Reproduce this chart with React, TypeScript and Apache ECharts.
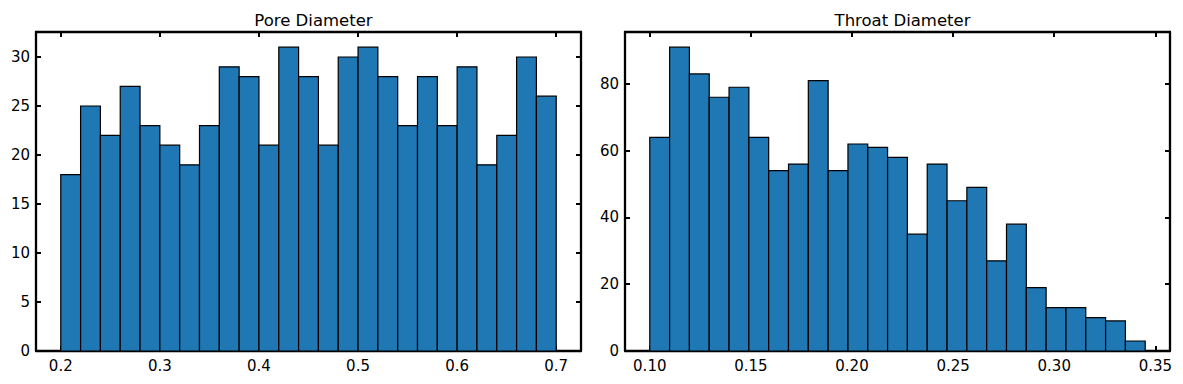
import React, { useEffect, useRef } from "react";
import * as echarts from "echarts";

// Pore Diameter histogram
const poreTitle = "Pore Diameter";
const poreBinStart = 0.2;
const poreBinWidth = 0.02;
const poreCounts = [18, 25, 22, 27, 23, 21, 19, 23, 29, 28, 21, 31, 28, 21, 30, 31, 28, 23, 28, 23, 29, 19, 22, 30, 26];
const poreXTicks = [0.2, 0.3, 0.4, 0.5, 0.6, 0.7];
const poreYTicks = [0, 5, 10, 15, 20, 25, 30];

// Throat Diameter histogram
const throatTitle = "Throat Diameter";
const throatBinStart = 0.1;
const throatBinWidth = 0.0098;
const throatCounts = [64, 91, 83, 76, 79, 64, 54, 56, 81, 54, 62, 61, 58, 35, 56, 45, 49, 27, 38, 19, 13, 13, 10, 9, 3];
const throatXTicks = [0.1, 0.15, 0.2, 0.25, 0.3, 0.35];
const throatYTicks = [0, 20, 40, 60, 80];

const FONT = "DejaVu Sans";

function toBins(start: number, width: number, counts: number[]) {
  return counts.map((c, i) => [start + i * width, start + (i + 1) * width, c]);
}

export default function App() {
  const ref = useRef<HTMLDivElement>(null);
  useEffect(() => {
    if (!ref.current) return;
    const chart = echarts.init(ref.current, null, { renderer: "svg" });

    const poreBins = toBins(poreBinStart, poreBinWidth, poreCounts);
    const throatBins = toBins(throatBinStart, throatBinWidth, throatCounts);

    const extent = (bins: number[][]) => {
      const lo = bins[0][0];
      const hi = bins[bins.length - 1][1];
      const m = (hi - lo) * 0.05;
      const ymax = Math.max(...bins.map((b) => b[2])) * 1.05;
      return { xmin: lo - m, xmax: hi + m, ymax };
    };
    const pe = extent(poreBins);
    const te = extent(throatBins);

    const grids = [
      { left: 36, top: 32, width: 545, height: 319 },
      { left: 625, top: 32, width: 545, height: 319 },
    ];

    const lineStyle = { color: "#000", width: 2.3 };
    const mkX = (gi: number, e: any, ticks: number[], dec: number, pos: string) => ({
      type: "value",
      gridIndex: gi,
      position: pos,
      min: e.xmin,
      max: e.xmax,
      axisLine: { show: true, onZero: false, lineStyle },
      axisTick: { show: true, inside: true, length: 5, lineStyle: { color: "#000", width: 2 }, customValues: ticks },
      axisLabel: {
        show: pos === "bottom",
        customValues: ticks,
        formatter: (v: number) => v.toFixed(dec),
        color: "#000",
        fontFamily: FONT,
        fontSize: 15,
        margin: 7,
      },
      splitLine: { show: false },
    });
    const mkY = (gi: number, e: any, ticks: number[], pos: string) => ({
      type: "value",
      gridIndex: gi,
      position: pos,
      min: 0,
      max: e.ymax,
      axisLine: { show: true, onZero: false, lineStyle },
      axisTick: { show: true, inside: true, length: 5, lineStyle: { color: "#000", width: 2 }, customValues: ticks },
      axisLabel: {
        show: pos === "left",
        customValues: ticks,
        formatter: (v: number) => String(Math.round(v)),
        color: "#000",
        fontFamily: FONT,
        fontSize: 15,
        margin: 6,
      },
      splitLine: { show: false },
    });

    const renderItem = (params: any, api: any) => {
      const x0 = api.value(0);
      const x1 = api.value(1);
      const c = api.value(2);
      const p0 = api.coord([x0, c]);
      const p1 = api.coord([x1, 0]);
      return {
        type: "rect",
        shape: { x: p0[0], y: p0[1], width: p1[0] - p0[0], height: p1[1] - p0[1] },
        style: { fill: "#1f77b4", stroke: "#000", lineWidth: 1.2 },
      };
    };

    const titleStyle = { fontFamily: FONT, fontSize: 16.5, fontWeight: "normal", color: "#000" };

    chart.setOption({
      animation: false,
      backgroundColor: "#fff",
      title: [
        { text: poreTitle, left: 36 + 545 / 2, top: 7, textAlign: "center", textStyle: titleStyle },
        { text: throatTitle, left: 625 + 545 / 2, top: 7, textAlign: "center", textStyle: titleStyle },
      ],
      grid: grids,
      xAxis: [
        mkX(0, pe, poreXTicks, 1, "bottom"),
        mkX(0, pe, poreXTicks, 1, "top"),
        mkX(1, te, throatXTicks, 2, "bottom"),
        mkX(1, te, throatXTicks, 2, "top"),
      ],
      yAxis: [
        mkY(0, pe, poreYTicks, "left"),
        mkY(0, pe, poreYTicks, "right"),
        mkY(1, te, throatYTicks, "left"),
        mkY(1, te, throatYTicks, "right"),
      ],
      series: [
        { type: "custom", xAxisIndex: 0, yAxisIndex: 0, renderItem, data: poreBins, encode: { x: [0, 1], y: 2 } },
        { type: "custom", xAxisIndex: 2, yAxisIndex: 2, renderItem, data: throatBins, encode: { x: [0, 1], y: 2 } },
      ],
    });
    return () => chart.dispose();
  }, []);
  return <div ref={ref} style={{ position: "fixed", left: 0, top: 0, width: 1183, height: 384 }} />;
}
